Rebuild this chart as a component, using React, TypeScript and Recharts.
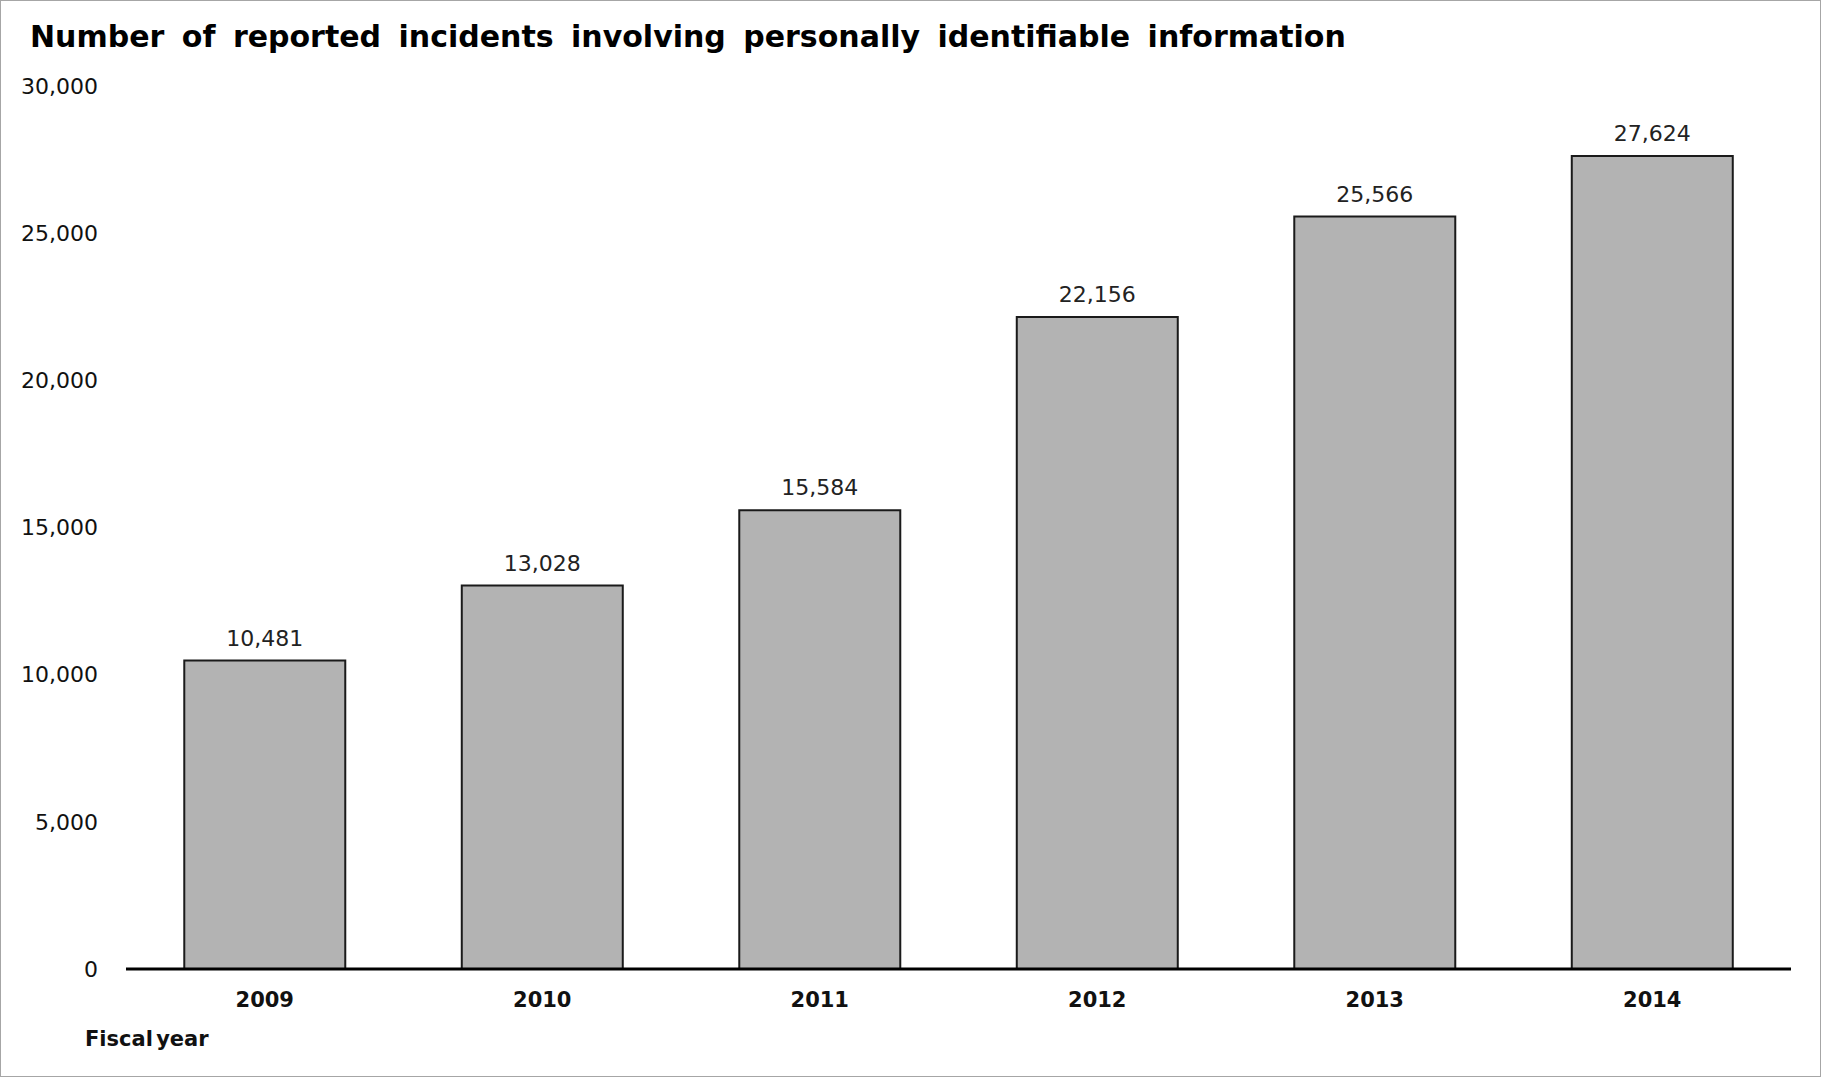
import { BarChart, Bar, XAxis, YAxis, LabelList } from 'recharts';

const YEARS = ['2009', '2010', '2011', '2012', '2013', '2014'];
const INCIDENTS = [10481, 13028, 15584, 22156, 25566, 27624];
const Y_TICKS = [0, 5000, 10000, 15000, 20000, 25000, 30000];

const TITLE = 'Number of reported incidents involving personally identifiable information';
const X_LABEL = 'Fiscal year';

const W = 1821;
const H = 1077;
const FONT = '"DejaVu Sans", Verdana, sans-serif';

const data = YEARS.map((year, i) => ({ year, value: INCIDENTS[i] }));

const fmt = (v: number) => v.toLocaleString('en-US');

export default function App() {
    return (
        <div
            style={{
                position: 'absolute',
                left: 0,
                top: 0,
                width: W,
                height: H,
                background: '#fff',
                boxSizing: 'border-box',
                border: '1px solid #a6a6a6',
                fontFamily: FONT,
            }}
        >
            <BarChart
                width={W - 2}
                height={H - 2}
                data={data}
                margin={{ top: 85, right: 29, left: 0, bottom: 57 }}
                barCategoryGap="21%"
            >
                <XAxis
                    dataKey="year"
                    axisLine={{ stroke: '#000', strokeWidth: 3 }}
                    tickLine={false}
                    tickSize={0}
                    tickMargin={23}
                    height={50}
                    tick={{ fill: '#111', fontSize: 21, fontWeight: 700, fontFamily: FONT }}
                />
                <YAxis
                    domain={[0, 30000]}
                    ticks={Y_TICKS}
                    interval={0}
                    width={125}
                    axisLine={false}
                    tickLine={false}
                    tickSize={0}
                    tickMargin={28}
                    tickFormatter={fmt}
                    tick={{ fill: '#111', fontSize: 22, fontFamily: FONT }}
                />
                <Bar
                    dataKey="value"
                    fill="#b3b3b3"
                    stroke="#1a1a1a"
                    strokeWidth={2}
                    isAnimationActive={false}
                >
                    <LabelList
                        dataKey="value"
                        position="top"
                        offset={15}
                        formatter={(v: number) => fmt(v)}
                        style={{ fill: '#222', fontSize: 22, fontFamily: FONT }}
                    />
                </Bar>
            </BarChart>
            <svg
                width={W - 2}
                height={H - 2}
                style={{ position: 'absolute', left: 0, top: 0, pointerEvents: 'none' }}
            >
                <text x={29} y={46} fontSize={30} fontWeight={700} fill="#000" fontFamily={FONT} wordSpacing={7}>
                    {TITLE}
                </text>
                <text x={84} y={1045} fontSize={21} fontWeight={700} fill="#111" fontFamily={FONT} wordSpacing={-4}>
                    {X_LABEL}
                </text>
            </svg>
        </div>
    );
}
